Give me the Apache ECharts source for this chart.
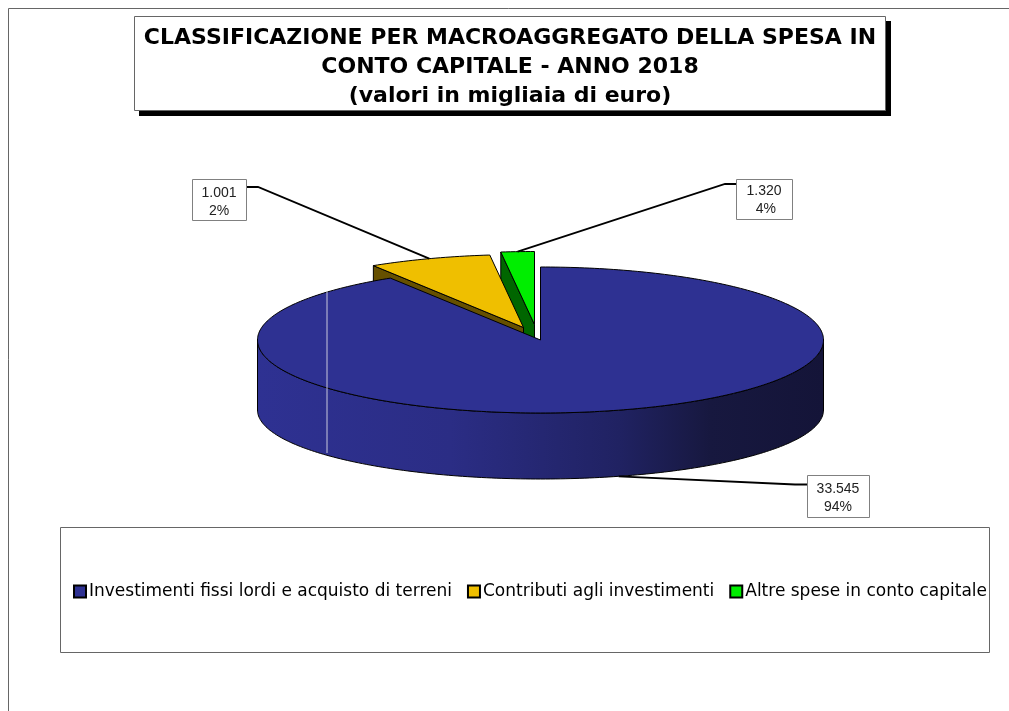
<!DOCTYPE html>
<html>
<head>
<meta charset="utf-8">
<title>Spesa in conto capitale 2018</title>
<style>
  html, body { margin: 0; padding: 0; background: #fff; }
  #chart { width: 1009px; height: 711px; }
</style>
<script src="https://cdn.jsdelivr.net/npm/echarts@6/dist/echarts.min.js"></script>
</head>
<body>
<div id="chart"></div>
<script>
const titleLines = [
  "CLASSIFICAZIONE PER MACROAGGREGATO DELLA SPESA IN",
  "CONTO CAPITALE - ANNO 2018",
  "(valori in migliaia di euro)"
];
const categories = [
  "Investimenti fissi lordi e acquisto di terreni",
  "Contributi agli investimenti",
  "Altre spese in conto capitale"
];
const valueLabels = ["33.545", "1.001", "1.320"];
const percentLabels = ["94%", "2%", " 4%"];
// the slices in the picture are not as wide as the printed percentages say,
// so the shares are read off the drawing (percent of the turn, clockwise from 12 o'clock)
const sliceShares = [91.1, 7.0, 1.9];

const topColors = ["#2e3192", "#efbf00", "#00ee00"];
const wallColors = ["#2e3192", "#665000", "#006600"];

// pie geometry
const cx = 540.5, cy = 340, rx = 283, ry = 73;
const wallDepth = 70, wallRy = 69;
const explode = [[0, 0], [-17, -12.5], [-6, -15.5]];
// label box [x, y, w, h], then elbow of the leader line
const labelBoxes = [[807, 475, 62, 42], [192, 179, 54, 41], [736, 179, 56, 40]];
const labelElbows = [[795, 484.5], [258, 187], [725, 184]];
const labelEnds = [[807, 484.5], [246, 187], [736, 184]];
const labelTextDy = [2, 3, 1];

let chart = echarts.init(document.getElementById("chart"), null, { renderer: "canvas" });

function rimPoint(i, deg) {
  const a = deg * Math.PI / 180;
  return [cx + explode[i][0] + rx * Math.sin(a), cy + explode[i][1] - ry * Math.cos(a)];
}

function sliceItem(i) {
  return function (params, api) {
    const share = api.value(0);
    let from = 0;
    for (let k = 0; k < i; k++) from += sliceShares[k];
    const start = from * 3.6;
    const end = (from + share) * 3.6;
    const apex = [cx + explode[i][0], cy + explode[i][1]];

    const top = [apex];
    for (let d = start; d < end; d += 1) top.push(rimPoint(i, d));
    top.push(rimPoint(i, end));

    const children = [];
    if (i === 0) {
      // front wall of the big slice
      const wall = [];
      for (let d = 90; d <= 270; d += 1) wall.push(rimPoint(0, d));
      for (let d = 270; d >= 90; d -= 1) {
        const a = d * Math.PI / 180;
        wall.push([cx + rx * Math.sin(a), cy + wallDepth - wallRy * Math.cos(a)]);
      }
      children.push({
        type: "polygon",
        shape: { points: wall },
        style: {
          fill: new echarts.graphic.LinearGradient(0, 0, 1, 0, [
            { offset: 0, color: "#2e3192" },
            { offset: 0.34, color: "#2b2d85" },
            { offset: 0.64, color: "#202262" },
            { offset: 0.8, color: "#17183f" },
            { offset: 1, color: "#141438" }
          ]),
          stroke: "#000",
          lineWidth: 1
        }
      });
    } else {
      // radial wall facing the viewer, the blue slice hides most of it
      const rim = rimPoint(i, start);
      children.push({
        type: "polygon",
        shape: { points: [rim, apex, [apex[0], apex[1] + wallDepth], [rim[0], rim[1] + wallDepth]] },
        style: { fill: wallColors[i], stroke: "#000", lineWidth: 1 }
      });
    }
    children.push({
      type: "polygon",
      shape: { points: top },
      style: { fill: topColors[i], stroke: "#000", lineWidth: 1 }
    });
    return { type: "group", children: children };
  };
}

function leaderPoints(i) {
  let from = 0;
  for (let k = 0; k < i; k++) from += sliceShares[k];
  const mid = (from + sliceShares[i] / 2) * 3.6;
  let end = rimPoint(i, mid);
  if (i === 0) {
    const a = mid * Math.PI / 180;
    end = [cx + rx * Math.sin(a), cy + wallDepth - wallRy * Math.cos(a)];
  }
  return [end, labelElbows[i], labelEnds[i]];
}

const sliceSeries = categories.map((name, i) => ({
  name: name,
  type: "custom",
  coordinateSystem: "none",
  z: [4, 3, 2][i],
  silent: true,
  itemStyle: { color: topColors[i], borderColor: "#000", borderWidth: 2 },
  data: [[sliceShares[i]]],
  renderItem: sliceItem(i)
}));

const labelGraphics = [];
categories.forEach((name, i) => {
  const b = labelBoxes[i];
  labelGraphics.push({
    type: "polyline",
    shape: { points: leaderPoints(i) },
    style: { stroke: "#000", lineWidth: 1.8, fill: null },
    z: 10
  });
  labelGraphics.push({
    type: "rect",
    shape: { x: b[0] + 0.5, y: b[1] + 0.5, width: b[2], height: b[3] },
    style: { fill: "#fff", stroke: "#808080", lineWidth: 1 },
    z: 11
  });
  labelGraphics.push({
    type: "text",
    x: b[0] + b[2] / 2,
    y: b[1] + b[3] / 2 + labelTextDy[i],
    style: {
      text: valueLabels[i] + "\n" + percentLabels[i],
      fill: "#222",
      font: '14px "Liberation Sans"',
      align: "center",
      verticalAlign: "middle",
      lineHeight: 18
    },
    z: 12
  });
});

const option = {
  backgroundColor: "#fff",
  animation: false,
  title: {
    text: titleLines.join("\n"),
    left: 505,
    top: 19,
    textAlign: "center",
    textStyle: {
      fontFamily: "DejaVu Sans",
      fontWeight: "bold",
      fontSize: 22,
      lineHeight: 29,
      color: "#000"
    }
  },
  legend: {
    data: categories,
    left: 73,
    top: 583,
    padding: 0,
    itemWidth: 12,
    itemHeight: 12,
    itemGap: 15,
    icon: "rect",
    textStyle: { fontFamily: "DejaVu Sans", fontSize: 17, color: "#000", padding: [0, 0, 0, -2] }
  },
  graphic: [
    // page frame
    { type: "polyline", shape: { points: [[8.5, 711], [8.5, 8.5], [1009, 8.5]] }, style: { stroke: "#666", lineWidth: 1, fill: null }, z: 0 },
    // title box and its hard shadow
    { type: "rect", shape: { x: 139, y: 21, width: 752, height: 95 }, style: { fill: "#000" }, z: 0 },
    { type: "rect", shape: { x: 134.5, y: 16.5, width: 751, height: 94 }, style: { fill: "#fff", stroke: "#666", lineWidth: 1 }, z: 0 },
    // legend box
    { type: "rect", shape: { x: 60.5, y: 527.5, width: 929, height: 125 }, style: { fill: "#fff", stroke: "#666", lineWidth: 1 }, z: 0 },
    // thin seam that crosses the pie in the source image
    { type: "line", shape: { x1: 327, y1: 291, x2: 327, y2: 453 }, style: { stroke: "#c9c9dc", lineWidth: 1 }, z: 9 }
  ].concat(labelGraphics),
  series: sliceSeries
};

chart.setOption(option);
</script>
</body>
</html>
